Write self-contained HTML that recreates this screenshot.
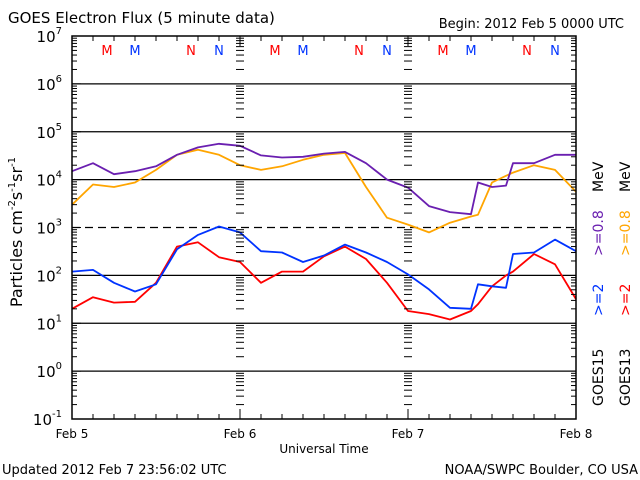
<!DOCTYPE html>
<html><head><meta charset="utf-8"><style>
html,body{margin:0;padding:0;background:#fff;}
svg{display:block;font-family:"DejaVu Sans","Liberation Sans",sans-serif;}
</style></head><body>
<svg id="chart" width="640" height="480" viewBox="0 0 640 480" xmlns="http://www.w3.org/2000/svg">
<rect width="640" height="480" fill="#fff"/>
<text x="8" y="23" font-size="15">GOES Electron Flux (5 minute data)</text>
<text x="624" y="28" font-size="13" text-anchor="end">Begin: 2012 Feb 5 0000 UTC</text>
<g id="grid"></g>
<g id="series"></g>
<rect x="72" y="36" width="504" height="383" fill="none" stroke="#000" stroke-width="1.5"/>
<g id="yticks"></g>
<g id="xticks"></g>
<g id="marks"></g>
<text transform="translate(22,232) rotate(-90)" font-size="16" text-anchor="middle">Particles cm<tspan dy="-7" font-size="10">-2</tspan><tspan dy="7">s</tspan><tspan dy="-7" font-size="10">-1</tspan><tspan dy="7">sr</tspan><tspan dy="-7" font-size="10">-1</tspan></text>
<text x="324" y="453" font-size="12" text-anchor="middle">Universal Time</text>
<text x="2" y="474" font-size="13">Updated 2012 Feb  7 23:56:02 UTC</text>
<text x="638" y="474" font-size="13" text-anchor="end">NOAA/SWPC Boulder, CO USA</text>
<g font-size="14">
<text transform="translate(603,406) rotate(-90)">GOES15</text>
<text transform="translate(603,316) rotate(-90)" fill="#0033ff">&gt;=2</text>
<text transform="translate(603,256) rotate(-90)" fill="#6a1fb0">&gt;=0.8</text>
<text transform="translate(603,192) rotate(-90)">MeV</text>
</g>
<g font-size="14">
<text transform="translate(630,406) rotate(-90)">GOES13</text>
<text transform="translate(630,316) rotate(-90)" fill="#ff0000">&gt;=2</text>
<text transform="translate(630,256) rotate(-90)" fill="#ffa500">&gt;=0.8</text>
<text transform="translate(630,192) rotate(-90)">MeV</text>
</g>
</svg>
<script>
const hours = [0,3,6,9,12,15,18,21,24,27,30,33,36,39,42,45,48,51,54,57,58,60,62,63,66,69,72];
const g15low = [1.5e4,2.2e4,1.3e4,1.5e4,1.9e4,3.3e4,4.7e4,5.6e4,5.1e4,3.2e4,2.9e4,3e4,3.5e4,3.8e4,2.2e4,1e4,6.8e3,2.8e3,2.1e3,1.9e3,8.7e3,7e3,7.5e3,2.2e4,2.2e4,3.3e4,3.3e4];
const g13low = [3e3,7.9e3,7e3,8.7e3,1.6e4,3.3e4,4.2e4,3.3e4,2e4,1.6e4,1.9e4,2.6e4,3.3e4,3.6e4,7e3,1.6e3,1.15e3,7.9e2,1.26e3,1.7e3,1.85e3,8.7e3,1.2e4,1.4e4,2e4,1.6e4,5.6e3];
const g15high = [1.2e2,1.3e2,7e1,4.6e1,6.5e1,3.5e2,7e2,1.05e3,7.9e2,3.2e2,3e2,1.9e2,2.6e2,4.4e2,3e2,1.9e2,1.05e2,5.1e1,2.1e1,2e1,6.5e1,5.9e1,5.5e1,2.8e2,3e2,5.6e2,3.2e2];
const g13high = [2e1,3.5e1,2.7e1,2.8e1,7e1,4e2,4.9e2,2.4e2,1.9e2,7e1,1.2e2,1.2e2,2.5e2,4e2,2.2e2,7e1,1.8e1,1.55e1,1.2e1,1.8e1,2.5e1,5.9e1,1e2,1.2e2,2.8e2,1.7e2,3.2e1];
const yTickExps = [7,6,5,4,3,2,1,0,-1];
const dayLabels = ["Feb 5","Feb 6","Feb 7","Feb 8"];
const markerLetters = ["M","M","N","N"];
const markerHours = [5,9,17,21];

const NS="http://www.w3.org/2000/svg";
const X0=72,X1=576,Y0=36,Y1=419;
const xs=h=>X0+(X1-X0)*h/72;
const ys=v=>Y0+(7-Math.log10(v))*(Y1-Y0)/8;
function mk(tag,parent,attrs){const e=document.createElementNS(NS,tag);for(const k in attrs)e.setAttribute(k,attrs[k]);parent.appendChild(e);return e;}
const grid=document.getElementById('grid'),yt=document.getElementById('yticks'),xt=document.getElementById('xticks'),ser=document.getElementById('series'),mks=document.getElementById('marks');
yTickExps.forEach(e=>{
  const y=ys(Math.pow(10,e));
  if(e<7&&e>-1){const l=mk('line',grid,{x1:X0,x2:X1,y1:y,y2:y,stroke:'#000','stroke-width':1.3});
    
    
    if(e===3)l.setAttribute('stroke-dasharray','8,5');}
  const t=mk('text',yt,{x:62,y:y+6,'font-size':15,'text-anchor':'end'});
  
  
  t.innerHTML='10<tspan dy="-8" font-size="10">'+e+'</tspan>';
  if(e>-1){for(let m=2;m<10;m++){const yy=ys(m*Math.pow(10,e-1));
    const tl=mk('line',yt,{x1:X0,x2:X0+5,y1:yy,y2:yy,stroke:'#000'});
    
    
    [240,408].forEach(dx=>{const d=mk('line',yt,{x1:dx-4,x2:dx+4,y1:yy,y2:yy,stroke:'#000'});
      
      });
    const tr=mk('line',yt,{x1:X1-5,x2:X1,y1:yy,y2:yy,stroke:'#000'});
    
    }}
  const t2=mk('line',yt,{x1:X0,x2:X0+9,y1:y,y2:y,stroke:'#000'});
  
  
});
for(let h=0;h<=72;h+=3){
  const x=xs(h),len=h%24===0?10:5;
  const a=mk('line',xt,{x1:x,x2:x,y1:Y1,y2:Y1-len,stroke:'#000'});
  
  
  const b=mk('line',xt,{x1:x,x2:x,y1:Y0,y2:Y0+len,stroke:'#000'});
  
  
}
dayLabels.forEach((d,i)=>{const t=mk('text',xt,{x:xs(i*24),y:438,'font-size':12,'text-anchor':'middle'});
  
  
  t.textContent=d;});
for(let day=0;day<3;day++)markerLetters.forEach((L,i)=>{
  const t=mk('text',mks,{x:xs(day*24+markerHours[i]),y:55,'font-size':13,'text-anchor':'middle',fill:i%2===0?'#ff0000':'#0033ff'});
  
  
  t.textContent=L;});
function line(vals,color,name){
  const p=mk('polyline',ser,{fill:'none',stroke:color,'stroke-width':1.8,'stroke-linejoin':'round',points:vals.map((v,i)=>xs(hours[i]).toFixed(1)+','+ys(v).toFixed(1)).join(' ')});
  
  
}
line(g13low,'#ffa500','goes13-0.8mev-line');
line(g15low,'#6a1fb0','goes15-0.8mev-line');
line(g13high,'#ff0000','goes13-2mev-line');
line(g15high,'#0033ff','goes15-2mev-line');
</script>
</body></html>
